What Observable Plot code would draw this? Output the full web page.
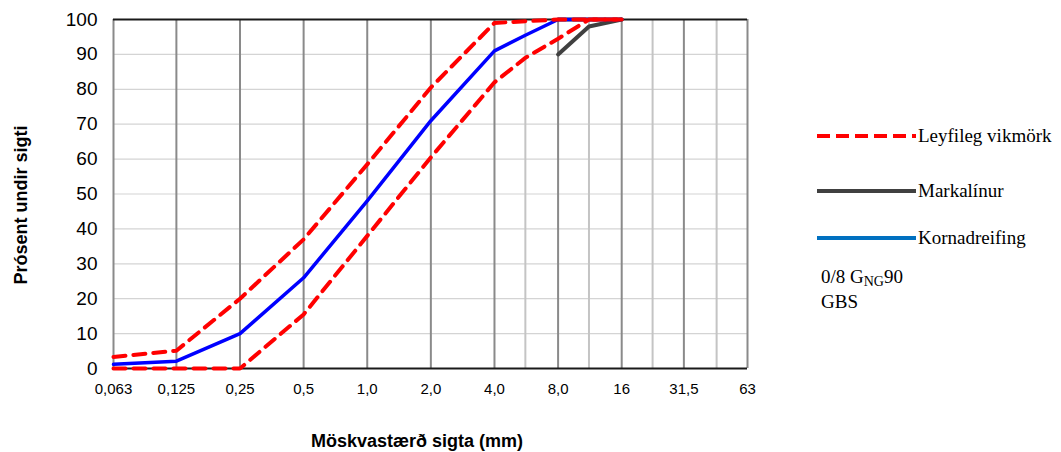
<!DOCTYPE html>
<html>
<head>
<meta charset="utf-8">
<script src="https://cdn.jsdelivr.net/npm/d3@7"></script>
<script src="https://cdn.jsdelivr.net/npm/@observablehq/plot@0.6"></script>
<style>
  html, body { margin: 0; padding: 0; background: #fff; }
  #chart { width: 1061px; height: 452px; }
</style>
</head>
<body>
<div id="chart"></div>
<script>
// Sieve sizes (mm)
const sieves = [0.063, 0.125, 0.25, 0.5, 1, 2, 4, 5.6, 8, 11.2, 16];
// Kornadreifing (grading curve)
const kornadreifing = [1.2, 2.1, 10, 26, 48, 71, 91, 95.5, 100, 100, 100];
// Leyfileg vikmörk (tolerance band)
const vikmorkUpper = [3.3, 5.1, 20, 37, 58.5, 80.5, 99, 99.5, 100, 100, 100];
const vikmorkLower = [0, 0, 0, 15.5, 38, 60.5, 82, 89, 94.5, 100, 100];
// Markalínur (limit lines)
const markaSieves = [8, 11.2, 16];
const markaLower = [90, 98, 100];
const markaUpper = [100, 100, 100];

// Axis ticks
const xTicks = [0.063, 0.125, 0.25, 0.5, 1, 2, 4, 8, 16, 31.5, 63];
const xTickLabels = ["0,063", "0,125", "0,25", "0,5", "1,0", "2,0", "4,0", "8,0", "16", "31,5", "63"];
const xMinorGrid = [5.6, 11.2, 22.4, 45];
const yTicks = [0, 10, 20, 30, 40, 50, 60, 70, 80, 90, 100];

const series = (ys, xs = sieves) => xs.map((x, i) => ({x, y: ys[i]}));
const xLabelData = xTicks.map((x, i) => ({x, label: xTickLabels[i]}));

const W = 1061, H = 452;
const mL = 113, mR = W - 747, mT = 19, mB = H - 368;

const chart = Plot.plot({
  width: W,
  height: H,
  marginLeft: mL,
  marginRight: mR,
  marginTop: mT,
  marginBottom: mB,
  style: {fontFamily: "'Liberation Sans', Arial, sans-serif", color: "#000", background: "#fff"},
  x: {type: "log", domain: [0.063, 63], axis: null},
  y: {domain: [0, 100], axis: null},
  marks: [
    Plot.ruleY(yTicks.slice(1, -1), {stroke: "#d4d4d4", strokeWidth: 1.2}),
    Plot.ruleX(xMinorGrid, {stroke: "#c4c4c4", strokeWidth: 2}),
    Plot.ruleX(xTicks, {stroke: "#8a8a8a", strokeWidth: 2}),
    Plot.ruleY([0, 100], {stroke: "#1a1a1a", strokeWidth: 2}),
    Plot.line(series(markaUpper, markaSieves), {x: "x", y: "y", stroke: "#404040", strokeWidth: 4}),
    Plot.line(series(markaLower, markaSieves), {x: "x", y: "y", stroke: "#404040", strokeWidth: 4}),
    Plot.line(series(kornadreifing), {x: "x", y: "y", stroke: "#0000ff", strokeWidth: 3.5}),
    Plot.line(series(vikmorkUpper), {x: "x", y: "y", stroke: "#ff0000", strokeWidth: 4, strokeDasharray: "12,8"}),
    Plot.line(series(vikmorkLower), {x: "x", y: "y", stroke: "#ff0000", strokeWidth: 4, strokeDasharray: "12,8"}),
    Plot.text(xLabelData, {x: "x", text: "label", frameAnchor: "bottom", dy: 25, fontSize: 15, fill: "#000"}),
    Plot.text(yTicks, {y: d => d, text: d => String(d), frameAnchor: "left", dx: -16, textAnchor: "end", fontSize: 19, fill: "#000"})
  ]
});

document.getElementById("chart").appendChild(chart);

const svg = d3.select(chart);
// Axis titles
svg.append("text")
  .attr("transform", "translate(27,205) rotate(-90)")
  .attr("text-anchor", "middle")
  .attr("font-family", "'Liberation Sans', Arial, sans-serif")
  .attr("font-weight", "bold")
  .attr("font-size", 18)
  .attr("fill", "#000")
  .text("Prósent undir sigti");
svg.append("text")
  .attr("x", 417).attr("y", 447)
  .attr("text-anchor", "middle")
  .attr("font-family", "'Liberation Sans', Arial, sans-serif")
  .attr("font-weight", "bold")
  .attr("font-size", 18)
  .attr("fill", "#000")
  .text("Möskvastærð sigta (mm)");

// Legend
const legendItems = [
  {label: "Leyfileg vikmörk", color: "#ff0000", dash: "13,6", y: 136},
  {label: "Markalínur", color: "#404040", dash: null, y: 191},
  {label: "Kornadreifing", color: "#0070c0", dash: null, y: 238}
];
const lg = svg.append("g")
  .attr("font-family", "'Liberation Serif', 'Times New Roman', serif")
  .attr("font-size", 19)
  .attr("text-anchor", "start")
  .attr("fill", "#000");
legendItems.forEach(d => {
  lg.append("line").attr("x1", 817).attr("x2", 916).attr("y1", d.y).attr("y2", d.y)
    .attr("stroke", d.color).attr("stroke-width", 4).attr("stroke-dasharray", d.dash);
  lg.append("text").attr("x", 918).attr("y", d.y).attr("dy", "0.32em").text(d.label);
});
const t1 = lg.append("text").attr("x", 821).attr("y", 283);
t1.append("tspan").text("0/8 G");
t1.append("tspan").attr("font-size", 14).attr("dy", 3).text("NG");
t1.append("tspan").attr("dy", -3).text("90");
lg.append("text").attr("x", 821).attr("y", 308).text("GBS");
</script>
</body>
</html>
